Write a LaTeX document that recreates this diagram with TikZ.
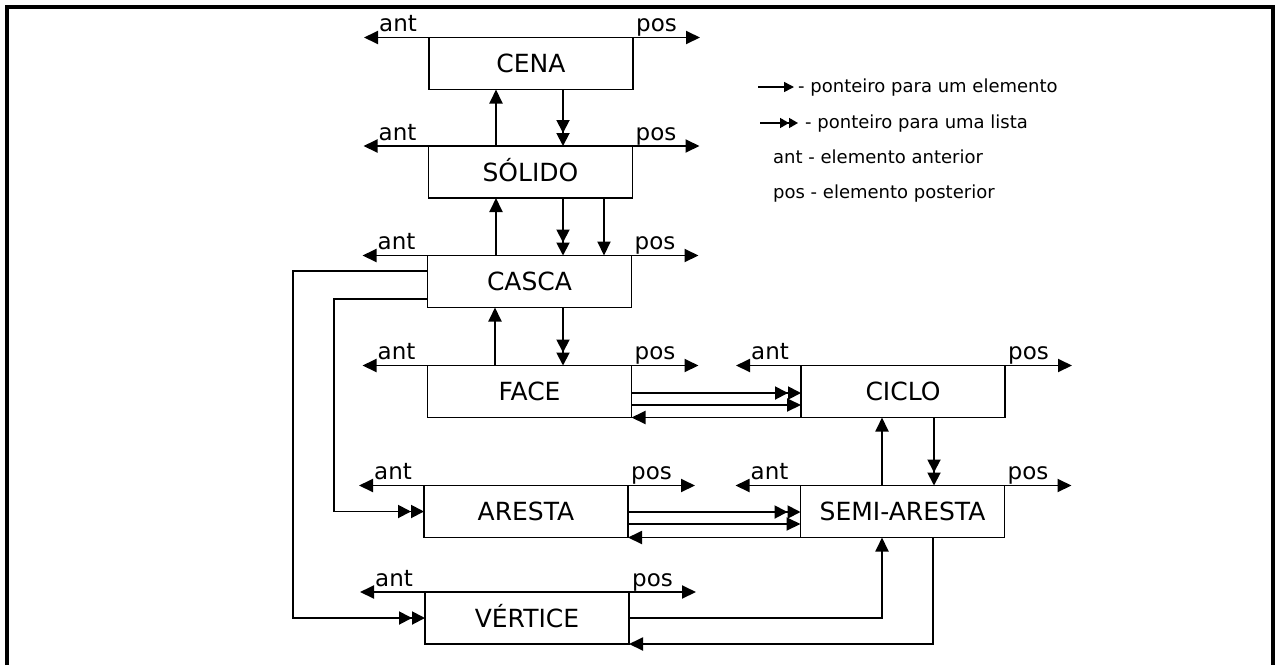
\documentclass[tikz,border=0pt]{standalone}
\usepackage{fontspec}
\setmainfont{DejaVu Sans}
\usetikzlibrary{arrows.meta}
\tikzset{
  box/.style={draw, line width=1.9pt, rectangle, inner sep=0pt, outer sep=0pt,
    minimum width=204pt, minimum height=52pt,
    font=\fontsize{25}{30}\selectfont, text height=18pt, text depth=0pt},
  lbl/.style={font=\fontsize{23}{28}\selectfont, inner sep=0pt},
  leg/.style={font=\fontsize{18}{22}\selectfont, inner sep=0pt},
  ptr/.style={line width=1.9pt, -{Triangle[length=14pt,width=13pt]}},
  ptrlist/.style={line width=1.9pt, -{Triangle[length=13pt,width=13pt,sep=0pt]Triangle[length=13pt,width=13pt]}},
  ptrboth/.style={line width=1.9pt, {Triangle[length=14pt,width=13pt]}-{Triangle[length=14pt,width=13pt]}},
  legptr/.style={line width=1.5pt, -{Triangle[length=10pt,width=10pt]}},
  legptrlist/.style={line width=1.5pt, -{Triangle[length=9pt,width=10pt,sep=0pt]Triangle[length=9pt,width=10pt]}},
  frame/.style={line width=4pt}
}
\newcommand\antpos[1]{%
  \draw[ptrboth] ([xshift=-65pt]#1.north west) -- ([xshift=67pt]#1.north east);
  \node[lbl,anchor=base west] (#1ant) at ([xshift=-50pt,yshift=6pt]#1.north west) {ant};
  \node[lbl,anchor=base west] (#1pos) at ([xshift=3pt,yshift=6pt]#1.north east) {pos};
}
\begin{document}
\begin{tikzpicture}[x=1pt,y=-1pt]
\useasboundingbox (0,0) rectangle (1280,665);
% frame (open at the bottom)
\draw[frame] (7,665) -- (7,7) -- (1273,7) -- (1273,665);

% boxes
\node[box] (cena)    at (531,63.5)   {CENA};
\node[box] (solido)  at (530.5,172)  {SÓLIDO};
\node[box] (casca)   at (529.5,281.5){CASCA};
\node[box] (face)    at (529.5,391.5){FACE};
\node[box] (ciclo)   at (903,391.5)  {CICLO};
\node[box] (aresta)  at (526,511.5)  {ARESTA};
\node[box] (semi)    at (902.5,511.5){SEMI-ARESTA};
\node[box] (vertice) at (527,618)    {VÉRTICE};

% ant / pos lines
\antpos{cena}
\antpos{solido}
\antpos{casca}
\antpos{face}
\antpos{ciclo}
\antpos{aresta}
\antpos{semi}
\antpos{vertice}

% vertical connections
\draw[ptr]     (496,0 |- solido.north) -- (496,0 |- cena.south);
\draw[ptrlist] (563,0 |- cena.south)   -- (563,0 |- solido.north);
\draw[ptr]     (496,0 |- casca.north)  -- (496,0 |- solido.south);
\draw[ptrlist] (563,0 |- solido.south) -- (563,0 |- casca.north);
\draw[ptr]     (604,0 |- solido.south) -- (604,0 |- casca.north);
\draw[ptr]     (495,0 |- face.north)   -- (495,0 |- casca.south);
\draw[ptrlist] (563,0 |- casca.south)  -- (563,0 |- face.north);
\draw[ptr]     (882,0 |- semi.north)   -- (882,0 |- ciclo.south);
\draw[ptrlist] (934,0 |- ciclo.south)  -- (934,0 |- semi.north);

% face <-> ciclo
\draw[ptrlist] (face.east |- 0,393) -- (ciclo.west |- 0,393);
\draw[ptr]     (face.east |- 0,405) -- (ciclo.west |- 0,405);
\draw[ptr]     (ciclo.south west) -- (face.south east);

% aresta <-> semi-aresta
\draw[ptrlist] (aresta.east |- 0,512) -- (semi.west |- 0,512);
\draw[ptr]     (aresta.east |- 0,524) -- (semi.west |- 0,524);
\draw[ptr]     (semi.south west) -- (aresta.south east);

% casca -> aresta, casca -> vertice
\draw[ptrlist] (casca.west |- 0,271) -- (293,271) |- (vertice.west);
\draw[ptrlist] (casca.west |- 0,299) -- (334,299) |- (aresta.west);

% vertice <-> semi-aresta
\draw[ptr] (vertice.east) -| (882,0 |- semi.south);
\draw[ptr] (933,0 |- semi.south) |- (vertice.south east);

% legend
\coordinate (l1a) at (758,87);  \coordinate (l1b) at (794,87);
\draw[legptr] (l1a) -- (l1b);
\node[leg,anchor=base west] (leg1) at (798,92) {- ponteiro para um elemento};
\coordinate (l2a) at (760,123); \coordinate (l2b) at (798,123);
\draw[legptrlist] (l2a) -- (l2b);
\node[leg,anchor=base west] (leg2) at (805,128) {- ponteiro para uma lista};
\node[leg,anchor=base west] (leg3) at (773,163) {ant - elemento anterior};
\node[leg,anchor=base west] (leg4) at (773,198) {pos - elemento posterior};
\end{tikzpicture}
\end{document}
